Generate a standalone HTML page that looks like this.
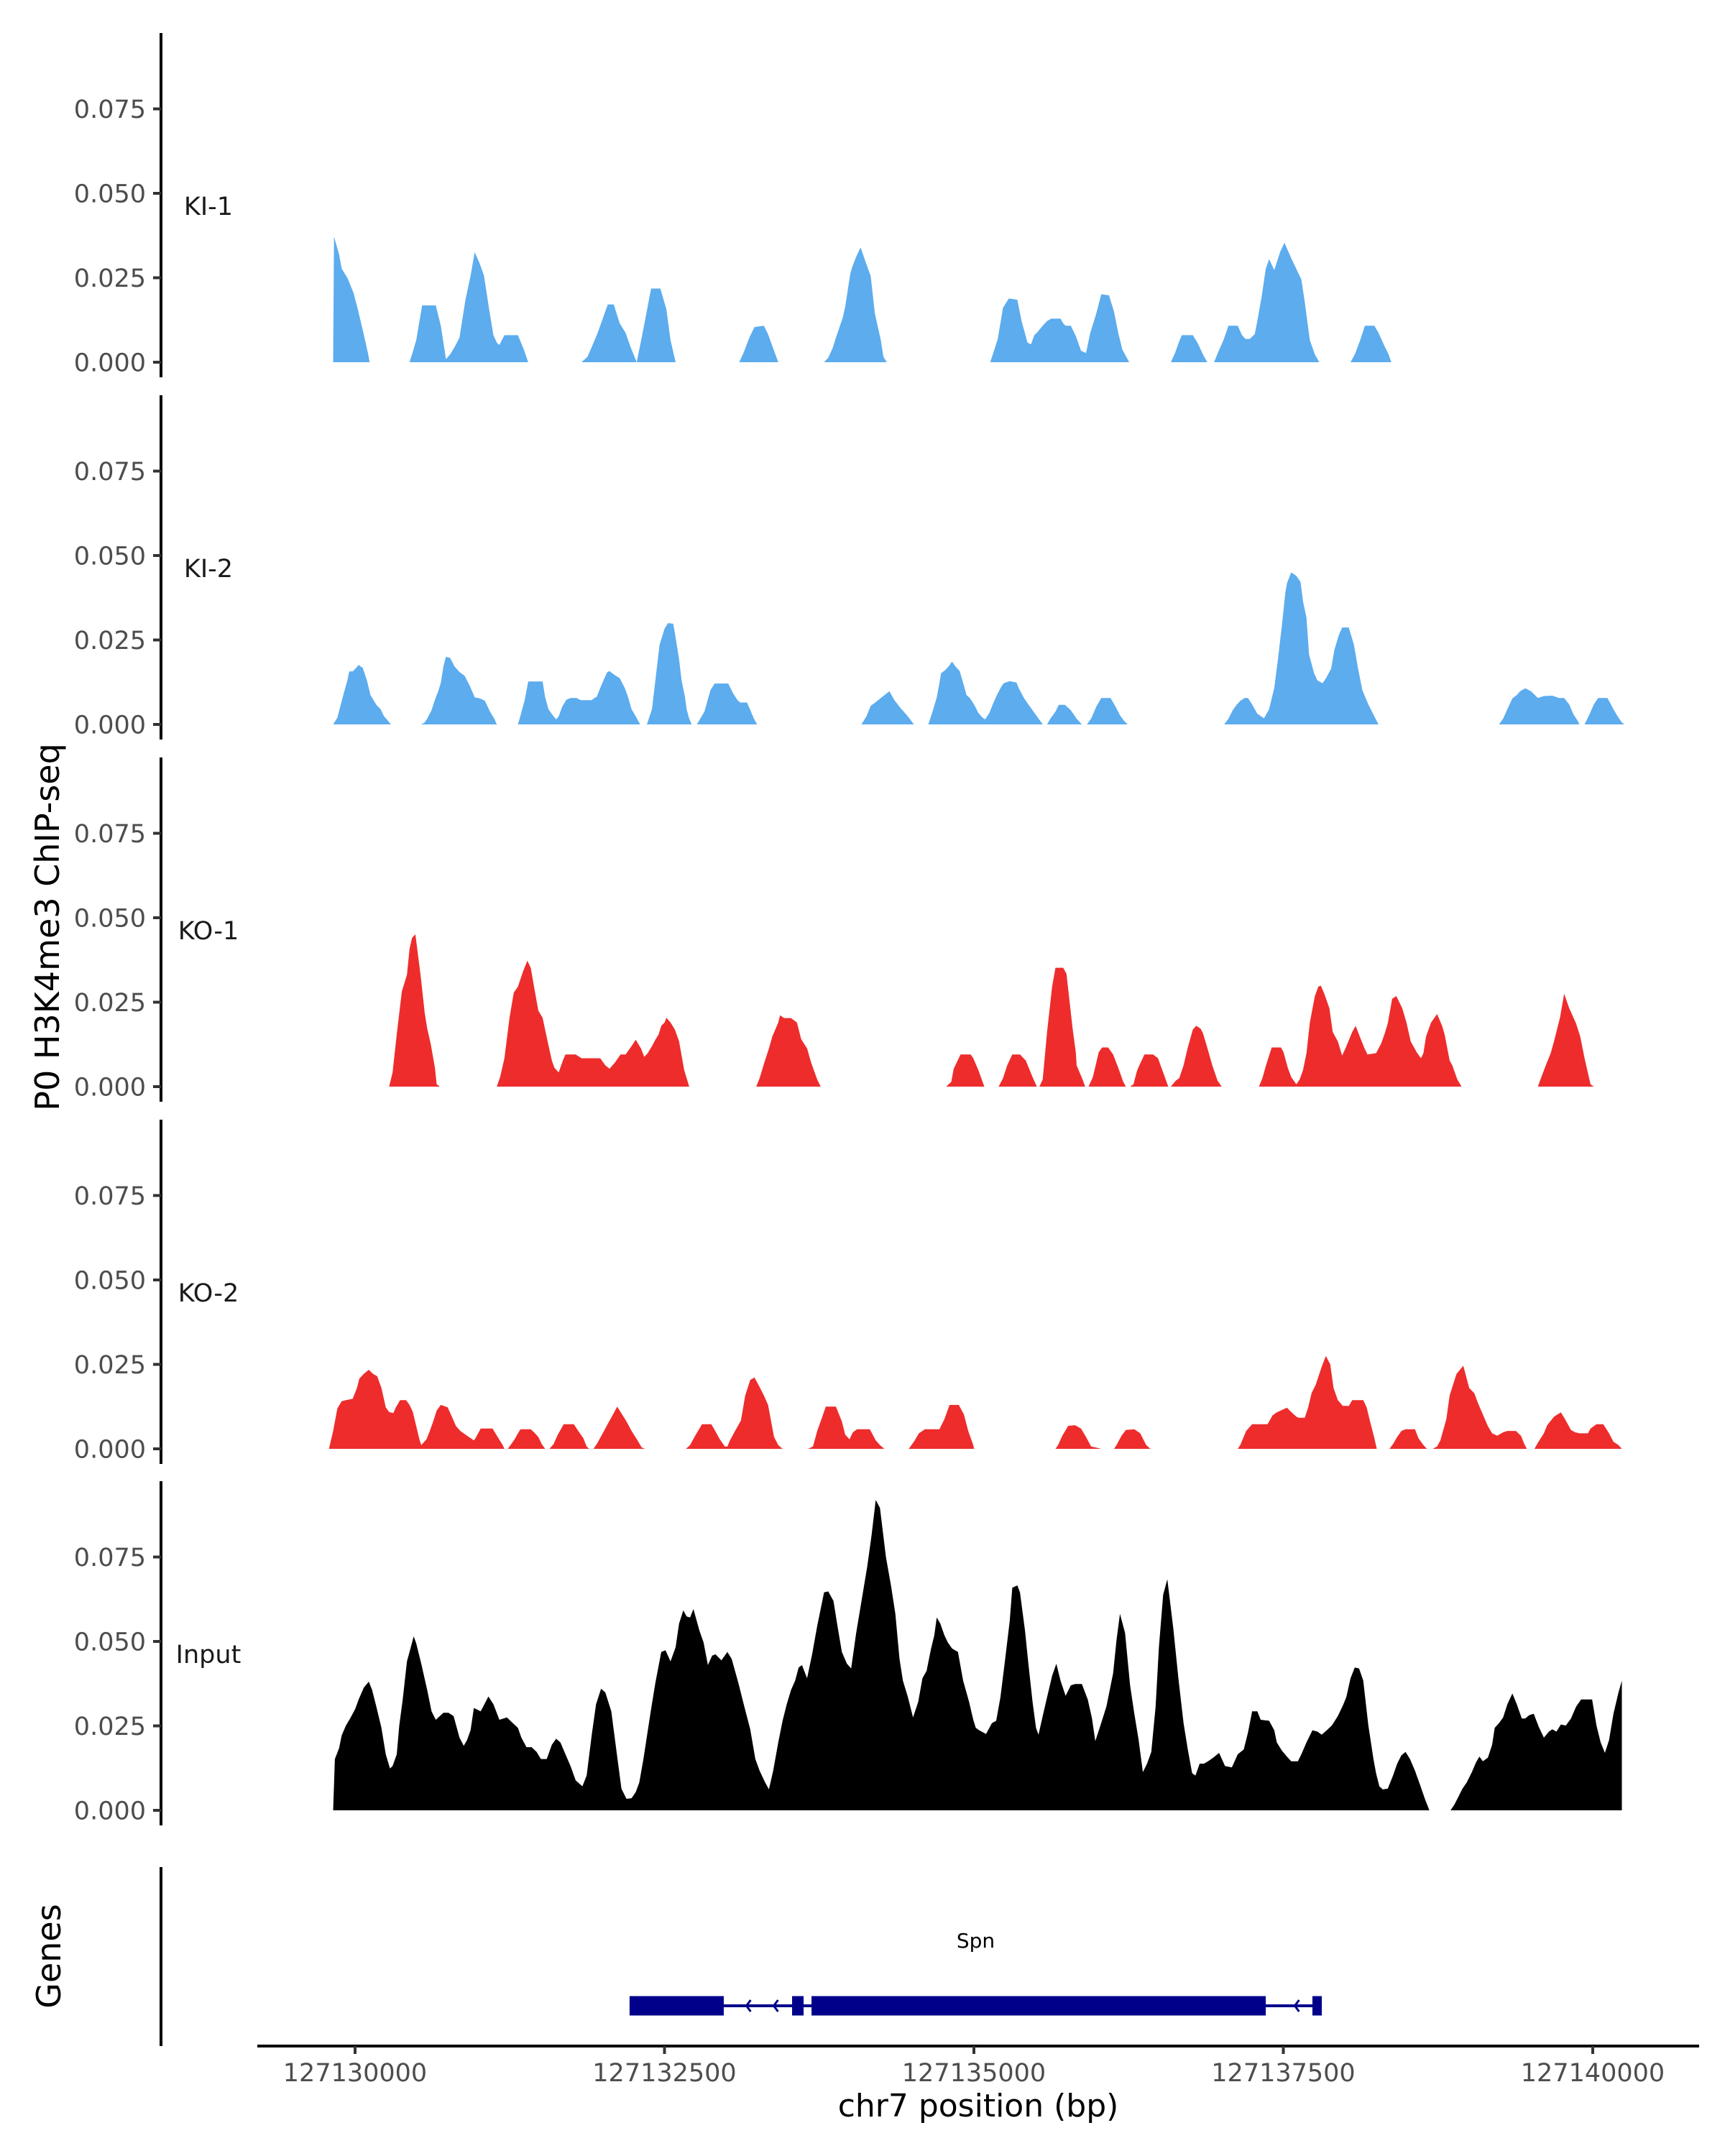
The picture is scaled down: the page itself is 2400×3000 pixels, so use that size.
<!DOCTYPE html>
<html><head><meta charset="utf-8"><title>Spn H3K4me3 ChIP-seq tracks</title>
<style>
html,body{margin:0;padding:0;background:#fff;}
svg{display:block;font-family:"DejaVu Sans","Liberation Sans",sans-serif;}
</style></head>
<body>
<svg id="chart" width="2400" height="3000" viewBox="0 0 2400 3000" xmlns="http://www.w3.org/2000/svg">
<rect width="2400" height="3000" fill="#fff"/>
<text x="0" y="0" transform="translate(82,1290) rotate(-90)" text-anchor="middle" font-size="46" fill="#000">P0 H3K4me3 ChIP-seq</text>
<text x="0" y="0" transform="translate(84,2722) rotate(-90)" text-anchor="middle" font-size="46" fill="#000">Genes</text>
<text x="1361" y="2945" text-anchor="middle" font-size="44" fill="#000">chr7 position (bp)</text>
<g id="tracks"></g>
<g id="genes"></g>
<g id="xaxis"></g>
</svg>
<script>
// ---- data (positions are chr7 coordinates minus 127,000,000) ----
const CHROM_OFFSET = 127000000;
const yTickValues = [0, 0.025, 0.05, 0.075];
const yTickLabels = ["0.000", "0.025", "0.050", "0.075"];
const xTickValues = [127130000, 127132500, 127135000, 127137500, 127140000];
const xTickLabels = ["127130000", "127132500", "127135000", "127137500", "127140000"];
const trackNames = ["KI-1", "KI-2", "KO-1", "KO-2", "Input"];

const ki1Pos = [
[129823,129830,129871,129892,129939,129987,130022,130063,130104,130118],
[130440,130460,130494,130542,130652,130693,130727,130734,130768,130803,130844,130892,130933,130967,131008,131042,131083,131118,131145,131166,131207,131316,131364,131399],
[131830,131878,131919,131960,131994,132042,132090,132138,132186,132227,132275,132316,132392,132467,132515,132549,132590],
[133104,133138,133186,133227,133303,133337,133378,133419],
[133789,133823,133858,133892,133912,133940,133960,134002,134015,134049,134084,134132,134166,134200,134248,134269,134296],
[135132,135159,135193,135235,135282,135351,135385,135433,135461,135488,135509,135556,135591,135625,135700,135721,135741,135783,135824,135865,135906,135940,135988,136029,136091,136132,136166,136200,136255],
[136591,136625,136659,136680,136769,136810,136851,136885],
[136940,136974,137016,137057,137132,137166,137194,137228,137269,137290,137324,137358,137385,137427,137474,137509,137564,137605,137646,137673,137714,137755,137790],
[138043,138077,138118,138159,138235,138269,138317,138351,138372]];
const ki1Val = [
[0,.0372,.0319,.0277,.0249,.0206,.0157,.0094,.0027,0],
[0,.0023,.0065,.0168,.0168,.0108,.0027,.0009,.0023,.0044,.0073,.0185,.0256,.0326,.0291,.0256,.0157,.0080,.0058,.0051,.0080,.0080,.0037,0],
[0,.0016,.0051,.0087,.0122,.0171,.0171,.0115,.0087,.0044,0,.0073,.0218,.0218,.0157,.0065,0],
[0,.0027,.0073,.0104,.0108,.0083,.0041,0],
[0,.0013,.0041,.0080,.0101,.0132,.0164,.0263,.0280,.0312,.0340,.0290,.0255,.0144,.0065,.0016,0],
[0,.0030,.0069,.0161,.0189,.0185,.0122,.0058,.0053,.0080,.0087,.0108,.0122,.0129,.0129,.0115,.0108,.0108,.0077,.0034,.0027,.0087,.0143,.0201,.0198,.0150,.0087,.0037,0],
[0,.0027,.0062,.0080,.0080,.0055,.0023,0],
[0,.0030,.0065,.0108,.0108,.0080,.0069,.0069,.0083,.0122,.0192,.0276,.0305,.0273,.0326,.0354,.0308,.0276,.0245,.0178,.0065,.0023,0],
[0,.0023,.0062,.0108,.0108,.0087,.0048,.0023,0]];

const ki2Pos = [
[129823,129857,129905,129939,129953,129981,130008,130029,130063,130097,130124,130172,130207,130234,130261,130289],
[130535,130563,130583,130618,130645,130672,130693,130714,130734,130768,130803,130844,130885,130926,130967,131008,131049,131090,131125,131145],
[131316,131330,131371,131399,131515,131536,131563,131597,131625,131645,131673,131707,131741,131789,131823,131912,131933,131953,131981,132015,132036,132056,132090,132138,132179,132207,132234,132268,132303],
[132358,132399,132426,132460,132501,132529,132570,132584,132618,132638,132666,132679,132700,132720],
[132762,132789,132823,132871,132905,133015,133056,133090,133111,133166,133186,133221,133248],
[134091,134132,134166,134207,134255,134317,134358,134406,134447,134481,134515],
[134632,134666,134700,134721,134734,134769,134796,134823,134851,134885,134919,134940,134967,135001,135036,135070,135091,135125,135152,135186,135221,135241,135289,135344,135365,135406,135440,135474,135509,135557],
[135591,135618,135659,135686,135735,135783,135830,135872],
[135913,135947,135988,136029,136104,136146,136180,136214,136242],
[137022,137057,137091,137125,137153,137187,137214,137248,137289,137344,137385,137427,137454,137488,137516,137530,137564,137605,137639,137660,137687,137708,137749,137776,137817,137845,137886,137913,137947,137975,138029,138070,138104,138139,138187,138235,138269],
[139242,139276,139310,139351,139386,139413,139454,139502,139557,139605,139673,139728,139769,139810,139844,139879,139892],
[139934,139975,140009,140043,140119,140167,140201,140235,140256]];
const ki2Val = [
[0,.0020,.0087,.0132,.0157,.0157,.0167,.0176,.0167,.0129,.0087,.0058,.0045,.0024,.0013,0],
[0,.0006,.0017,.0042,.0073,.0098,.0123,.0172,.0200,.0197,.0172,.0155,.0144,.0115,.0080,.0077,.0070,.0038,.0017,0],
[0,.0017,.0073,.0127,.0127,.0080,.0045,.0027,.0015,.0024,.0052,.0073,.0078,.0078,.0072,.0072,.0078,.0082,.0108,.0137,.0154,.0158,.0148,.0137,.0108,.0080,.0045,.0024,0],
[0,.0045,.0130,.0235,.0284,.0300,.0298,.0270,.0193,.0130,.0080,.0045,.0017,0],
[0,.0017,.0038,.0101,.0121,.0121,.0091,.0072,.0065,.0065,.0049,.0018,0],
[0,.0024,.0055,.0066,.0080,.0098,.0072,.0049,.0032,.0017,0],
[0,.0038,.0080,.0122,.0151,.0161,.0172,.0186,.0172,.0158,.0115,.0087,.0078,.0059,.0034,.0020,.0015,.0034,.0059,.0087,.0112,.0122,.0128,.0124,.0105,.0077,.0059,.0042,.0024,0],
[0,.0017,.0038,.0058,.0058,.0042,.0017,0],
[0,.0017,.0052,.0078,.0078,.0052,.0027,.0010,0],
[0,.0017,.0042,.0059,.0070,.0078,.0078,.0059,.0032,.0018,.0045,.0108,.0186,.0291,.0390,.0419,.0450,.0440,.0422,.0362,.0316,.0207,.0151,.0130,.0122,.0137,.0165,.0221,.0263,.0287,.0287,.0236,.0165,.0101,.0059,.0024,0],
[0,.0017,.0045,.0077,.0087,.0098,.0107,.0098,.0078,.0084,.0085,.0078,.0078,.0059,.0030,.0010,0],
[0,.0031,.0059,.0078,.0078,.0045,.0024,.0006,0]];

const ko1Pos = [
[130275,130303,130337,130378,130419,130440,130460,130487,130529,130563,130583,130611,130645,130659,130686],
[131145,131172,131207,131248,131282,131316,131357,131392,131419,131446,131481,131515,131556,131590,131611,131645,131679,131700,131782,131830,131981,132022,132056,132097,132145,132186,132234,132268,132310,132337,132364,132399,132426,132453,132474,132501,132515,132549,132584,132618,132659,132700],
[133241,133269,133303,133344,133371,133419,133433,133467,133522,133570,133604,133652,133686,133734,133762],
[134776,134817,134837,134892,134974,134995,135036,135084],
[135200,135235,135269,135310,135372,135419,135474,135509],
[135529,135556,135591,135632,135659,135721,135748,135796,135824,135830,135878,135899],
[135926,135961,136009,136036,136084,136125,136166,136207,136228],
[136262,136289,136317,136337,136378,136447,136488,136515,136536,136570],
[136591,136632,136659,136694,136728,136769,136796,136831,136851,136885,136926,136968,137002],
[137303,137331,137358,137406,137481,137502,137536,137564,137605,137632,137659,137687,137714,137755,137783,137803,137831,137872,137899,137940,137975,138002,138057,138084,138118,138153,138180,138249,138290,138317,138344,138379,138413,138461,138495,138529,138577,138612,138632,138653,138694,138742,138783,138803,138844,138865,138906,138940],
[139557,139577,139625,139660,139687,139735,139769,139810,139865,139899,139934,139982,140009]];
const ko1Val = [
[0,.0042,.0155,.0282,.0331,.0408,.0440,.0451,.0331,.0218,.0172,.0127,.0056,.0007,0],
[0,.0028,.0084,.0204,.0278,.0296,.0341,.0373,.0352,.0296,.0225,.0204,.0134,.0077,.0056,.0042,.0077,.0095,.0095,.0084,.0084,.0063,.0053,.0070,.0095,.0095,.0120,.0139,.0113,.0088,.0099,.0120,.0139,.0155,.0180,.0190,.0204,.0190,.0169,.0134,.0049,0],
[0,.0025,.0067,.0113,.0148,.0190,.0211,.0203,.0203,.0190,.0141,.0113,.0070,.0021,0],
[0,.0014,.0053,.0095,.0095,.0084,.0049,0],
[0,.0025,.0063,.0095,.0095,.0077,.0028,0],
[0,.0021,.0162,.0296,.0352,.0352,.0334,.0176,.0099,.0063,.0021,0],
[0,.0028,.0102,.0116,.0116,.0095,.0056,.0014,0],
[0,.0007,.0046,.0063,.0095,.0095,.0084,.0056,.0035,0],
[0,.0018,.0025,.0063,.0116,.0169,.0180,.0172,.0158,.0116,.0063,.0018,0],
[0,.0025,.0060,.0116,.0116,.0102,.0056,.0028,.0007,.0021,.0049,.0099,.0190,.0268,.0296,.0299,.0275,.0232,.0162,.0134,.0092,.0113,.0162,.0180,.0148,.0116,.0095,.0099,.0127,.0155,.0187,.0260,.0268,.0232,.0190,.0134,.0102,.0084,.0099,.0148,.0190,.0215,.0180,.0155,.0077,.0063,.0021,0],
[0,.0021,.0067,.0099,.0134,.0204,.0275,.0232,.0187,.0148,.0084,.0007,0]];

const ko2Pos = [
[129789,129823,129857,129892,129926,129981,130015,130035,130070,130111,130145,130179,130213,130248,130275,130309,130330,130364,130412,130440,130467,130494,130522,130535,130577,130604,130631,130659,130693,130748,130782,130816,130851,130905,130960,130974,131015,131111,131152,131193,131207],
[131234,131262,131289,131316,131337,131419,131446,131481,131508,131536],
[131570,131604,131638,131686,131768,131803,131844,131871,131892],
[131926,131953,132001,132042,132084,132118,132145,132193,132234,132282,132316,132344],
[132673,132707,132748,132803,132878,132899,132947,132988,133008,133029,133070,133118,133152,133193,133227,133269,133303,133337,133385,133419,133454],
[133659,133700,133734,133775,133803,133885,133933,133960,133995,134022,134056,134159,134207,134241,134276],
[134474,134515,134556,134604,134721,134762,134803,134878,134919,134954,134995,135002],
[135659,135680,135714,135762,135817,135865,135906,135947,136009,136029],
[136132,136152,136193,136228,136296,136344,136392,136426],
[137132,137152,137200,137248,137372,137413,137447,137529,137564,137605,137625,137673,137701,137728,137762,137810,137844,137879,137906,137940,137981,138029,138057,138146,138173,138201,138235,138255],
[138358,138386,138420,138454,138488,138564,138591,138632,138660],
[138707,138742,138769,138817,138844,138899,138954,139002,139043,139071,139112,139153,139187,139228,139276,139310,139379,139420,139447,139468],
[139529,139557,139605,139632,139687,139742,139776,139824,139858,139893,139961,139982,140030,140085,140132,140167,140208,140235]];
const ko2Val = [
[0,.0053,.0120,.0141,.0144,.0148,.0180,.0208,.0222,.0234,.0222,.0215,.0180,.0123,.0109,.0106,.0123,.0144,.0144,.0130,.0109,.0067,.0025,.0011,.0028,.0053,.0081,.0113,.0130,.0123,.0095,.0067,.0053,.0039,.0025,.0032,.0060,.0060,.0035,.0011,0],
[0,.0014,.0028,.0046,.0058,.0058,.0049,.0035,.0014,0],
[0,.0014,.0042,.0073,.0073,.0053,.0032,.0007,0],
[0,.0014,.0046,.0074,.0102,.0125,.0109,.0081,.0053,.0025,.0004,0],
[0,.0011,.0039,.0073,.0073,.0060,.0028,.0007,.0007,.0025,.0053,.0084,.0158,.0204,.0211,.0183,.0158,.0130,.0035,.0011,0],
[0,.0007,.0053,.0095,.0125,.0125,.0081,.0042,.0028,.0049,.0058,.0058,.0025,.0011,0],
[0,.0021,.0046,.0058,.0058,.0088,.0130,.0130,.0102,.0053,.0011,0],
[0,.0011,.0039,.0068,.0070,.0060,.0035,.0007,.0002,0],
[0,.0011,.0039,.0056,.0058,.0046,.0011,0],
[0,.0011,.0053,.0073,.0073,.0099,.0108,.0122,.0109,.0095,.0092,.0092,.0123,.0165,.0190,.0243,.0275,.0250,.0180,.0144,.0127,.0127,.0144,.0144,.0123,.0081,.0032,0],
[0,.0014,.0035,.0053,.0058,.0058,.0032,.0011,0],
[0,.0007,.0025,.0088,.0158,.0222,.0246,.0180,.0165,.0137,.0102,.0067,.0046,.0039,.0049,.0053,.0053,.0039,.0014,0],
[0,.0018,.0046,.0070,.0095,.0108,.0088,.0056,.0049,.0046,.0046,.0060,.0073,.0073,.0046,.0021,.0011,0]];

const inputPos = [
[129823,129837,129871,129892,129926,129960,130001,130029,130070,130111,130138,130172,130213,130248,130282,130303,130337,130357,130385,130419,130440,130474,130494,130535,130583,130618,130652,130714,130755,130796,130844,130878,130905,130933,130960,131015,131077,131118,131166,131227,131275,131316,131344,131385,131426,131467,131501,131549,131590,131625,131659,131700,131741,131782,131837,131871,131912,131947,131988,132022,132070,132118,132152,132193,132234,132268,132296,132330,132392,132426,132474,132508,132549,132590,132618,132652,132679,132707,132734,132782,132816,132851,132885,132912,132960,133008,133043,133097,133145,133193,133234,133269,133310,133344,133378,133419,133454,133488,133522,133556,133584,133611,133652,133693,133734,133789,133823,133865,133899,133933,133974,134008,134049,134097,134138,134173,134207,134241,134289,134330,134365,134399,134426,134467,134508,134550,134584,134618,134652,134680,134700,134728,134762,134789,134824,134871,134913,134961,134995,135015,135043,135098,135145,135180,135214,135248,135289,135310,135351,135372,135413,135440,135474,135502,135522,135556,135591,135632,135666,135700,135741,135783,135817,135872,135920,135954,135981,136022,136070,136125,136152,136180,136221,136262,136296,136331,136365,136399,136433,136468,136495,136529,136563,136611,136652,136694,136728,136763,136790,136824,136858,136892,136933,136981,137029,137084,137132,137180,137214,137248,137290,137317,137385,137427,137447,137488,137529,137564,137618,137646,137687,137735,137776,137810,137851,137892,137940,137981,138009,138043,138077,138112,138146,138187,138228,138249,138276,138303,138344,138386,138420,138454,138488,138523,138564,138605,138646,138680],
[138851,138879,138913,138947,138981,139023,139057,139084,139112,139153,139187,139208,139242,139276,139310,139351,139386,139427,139454,139488,139523,139564,139605,139646,139673,139707,139742,139783,139824,139865,139906,139995,140030,140064,140098,140132,140167,140208,140235]];
const inputVal = [
[0,.0152,.0184,.0222,.0251,.0272,.0300,.0328,.0363,.0381,.0356,.0307,.0244,.0166,.0124,.0131,.0166,.0251,.0328,.0441,.0469,.0515,.0494,.0434,.0356,.0293,.0268,.0289,.0289,.0279,.0215,.0191,.0208,.0237,.0303,.0293,.0337,.0314,.0268,.0275,.0258,.0244,.0215,.0187,.0187,.0173,.0152,.0152,.0194,.0212,.0201,.0166,.0131,.0089,.0071,.0103,.0222,.0314,.0360,.0349,.0293,.0159,.0064,.0034,.0036,.0054,.0082,.0152,.0300,.0377,.0469,.0474,.0441,.0483,.0553,.0592,.0574,.0571,.0596,.0532,.0497,.0430,.0458,.0462,.0444,.0469,.0448,.0377,.0307,.0240,.0152,.0117,.0085,.0062,.0117,.0201,.0265,.0314,.0356,.0384,.0423,.0430,.0391,.0462,.0546,.0645,.0648,.0620,.0543,.0469,.0434,.0420,.0525,.0631,.0722,.0814,.0919,.0895,.0750,.0666,.0582,.0448,.0384,.0335,.0275,.0321,.0391,.0413,.0476,.0518,.0571,.0553,.0518,.0497,.0479,.0469,.0384,.0321,.0268,.0244,.0237,.0226,.0258,.0265,.0335,.0434,.0560,.0659,.0666,.0645,.0532,.0434,.0321,.0244,.0224,.0279,.0335,.0398,.0434,.0384,.0339,.0370,.0374,.0374,.0328,.0272,.0205,.0251,.0307,.0406,.0504,.0582,.0525,.0370,.0286,.0208,.0113,.0138,.0173,.0307,.0483,.0638,.0684,.0539,.0391,.0258,.0180,.0110,.0103,.0138,.0138,.0145,.0156,.0170,.0131,.0127,.0166,.0180,.0230,.0293,.0293,.0268,.0265,.0237,.0201,.0177,.0159,.0145,.0145,.0166,.0201,.0237,.0233,.0224,.0237,.0251,.0279,.0310,.0335,.0391,.0423,.0420,.0384,.0251,.0152,.0110,.0071,.0062,.0064,.0103,.0138,.0163,.0173,.0152,.0117,.0075,.0032,0],
[0,.0015,.0039,.0064,.0082,.0113,.0142,.0159,.0145,.0156,.0194,.0244,.0258,.0275,.0314,.0346,.0314,.0272,.0272,.0282,.0286,.0247,.0215,.0233,.0240,.0233,.0254,.0251,.0272,.0307,.0328,.0328,.0251,.0201,.0170,.0208,.0286,.0349,.0384]];

const geneExonStart = [132218, 133531, 133688, 137735];
const geneExonEnd   = [132979, 133624, 137358, 137811];
const geneStart = 132218;
const geneEnd = 137811;
const geneArrowPos = [133179, 133400, 137610];
const geneName = "Spn";

// ---- scales ----
const X0 = 494, PX_PER_BP = 0.1722;
function xScale(bp){ return X0 + (bp - 127130000) * PX_PER_BP; }
const PANEL_ZERO = [504, 1008, 1512, 2016, 2519];
const PX_PER_UNIT = 4700;
function yScale(v, panel){ return PANEL_ZERO[panel] - v * PX_PER_UNIT; }

const NS = "http://www.w3.org/2000/svg";
function mk(tag, attrs, parent){
  const e = document.createElementNS(NS, tag);
  for (const k in attrs) e.setAttribute(k, attrs[k]);
  parent.appendChild(e);
  return e;
}
const tracksG = document.getElementById('tracks');
const trackPos = [ki1Pos, ki2Pos, ko1Pos, ko2Pos, inputPos];
const trackVal = [ki1Val, ki2Val, ko1Val, ko2Val, inputVal];
const trackColor = ['#5CACEE', '#5CACEE', '#EE2C2C', '#EE2C2C', '#000000'];

for (let t = 0; t < trackNames.length; t++){
  const g = mk('g', {}, tracksG);
  
  
  const z = PANEL_ZERO[t];
  // axis line
  const ax = mk('line', {x1:224, x2:224, y1:z-458, y2:z+21, stroke:'#000', 'stroke-width':4}, g);
  
  
  for (let i = 0; i < yTickValues.length; i++){
    const y = yScale(yTickValues[i], t);
    const tk = mk('line', {x1:213, x2:224, y1:y, y2:y, stroke:'#333', 'stroke-width':4}, g);
    
    
    const lb = mk('text', {x:203, y:y+12.5, 'text-anchor':'end', 'font-size':35, fill:'#4d4d4d'}, g);
    lb.textContent = yTickLabels[i];
    
    
  }
  const nm = mk('text', {x:290, y:z-205, 'text-anchor':'middle', 'font-size':35, fill:'#1a1a1a'}, g);
  nm.textContent = trackNames[t];
  
  
  const P = trackPos[t], V = trackVal[t];
  for (let s = 0; s < P.length; s++){
    const n = Math.min(P[s].length, V[s].length);
    if (n < 2) continue;
    let d = 'M' + xScale(P[s][0] + CHROM_OFFSET).toFixed(1) + ',' + z;
    for (let i = 0; i < n; i++){
      d += 'L' + xScale(P[s][i] + CHROM_OFFSET).toFixed(1) + ',' + yScale(V[s][i], t).toFixed(1);
    }
    d += 'L' + xScale(P[s][n-1] + CHROM_OFFSET).toFixed(1) + ',' + z + 'Z';
    const pa = mk('path', {d:d, fill:trackColor[t], stroke:'none'}, g);
    
    
  }
}

// ---- gene track ----
const genesG = document.getElementById('genes');
const gAx = mk('line', {x1:224, x2:224, y1:2598, y2:2847, stroke:'#000', 'stroke-width':4}, genesG);


const GY = 2791;
const intron = mk('line', {x1:xScale(geneStart+CHROM_OFFSET), x2:xScale(geneEnd+CHROM_OFFSET), y1:GY, y2:GY, stroke:'#00008B', 'stroke-width':4}, genesG);


for (let i = 0; i < geneExonStart.length; i++){
  const x1 = xScale(geneExonStart[i]+CHROM_OFFSET), x2 = xScale(geneExonEnd[i]+CHROM_OFFSET);
  const ex = mk('rect', {x:x1, y:GY-13.5, width:Math.max(3, x2-x1), height:27, fill:'#00008B'}, genesG);
  
  
}
for (let i = 0; i < geneArrowPos.length; i++){
  const ax = xScale(geneArrowPos[i]+CHROM_OFFSET);
  const ar = mk('polyline', {points:(ax+3)+','+(GY-8)+' '+(ax-3)+','+GY+' '+(ax+3)+','+(GY+8), fill:'none', stroke:'#00008B', 'stroke-width':3}, genesG);
  
  
}
const gl = mk('text', {x:(xScale(geneStart+CHROM_OFFSET)+xScale(geneEnd+CHROM_OFFSET))/2, y:2710, 'text-anchor':'middle', 'font-size':28, fill:'#000'}, genesG);
gl.textContent = geneName;



// ---- x axis ----
const xG = document.getElementById('xaxis');
const xl = mk('line', {x1:358, x2:2364, y1:2847, y2:2847, stroke:'#000', 'stroke-width':4}, xG);


for (let i = 0; i < xTickValues.length; i++){
  const x = xScale(xTickValues[i]);
  const tk = mk('line', {x1:x, x2:x, y1:2847, y2:2858, stroke:'#333', 'stroke-width':4}, xG);
  
  
  const lb = mk('text', {x:x, y:2896, 'text-anchor':'middle', 'font-size':35, fill:'#4d4d4d'}, xG);
  lb.textContent = xTickLabels[i];
  
  
}
</script>
</body></html>
